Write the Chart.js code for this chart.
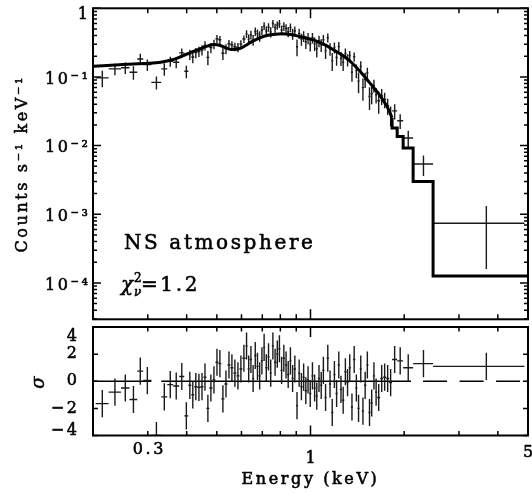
<!DOCTYPE html>
<html>
<head>
<meta charset="utf-8">
<script src="https://cdn.jsdelivr.net/npm/chart.js@4.4.1/dist/chart.umd.min.js"></script>
<style>
  html, body { margin: 0; padding: 0; background: #fff; overflow: hidden; }
  #wrap { position: relative; width: 532px; height: 494px; }
  canvas { position: absolute; left: 0; }
  #spec { top: 0; }
  #res { top: 322px; }
</style>
</head>
<body>
<div id="wrap">
  <canvas id="spec" width="532" height="322"></canvas>
  <canvas id="res" width="532" height="172"></canvas>
</div>
<script>
// spectrum bins (keV), contiguous
const binEdges = [
  0.204, 0.2245, 0.246, 0.262, 0.2775, 0.290, 0.308, 0.3315, 0.3465, 0.362, 0.3785, 0.393, 0.405,
  0.414, 0.423, 0.433, 0.443, 0.453, 0.463, 0.473, 0.484, 0.495, 0.506, 0.517, 0.529, 0.541, 0.553,
  0.565, 0.578, 0.591, 0.604, 0.618,
  0.628, 0.638, 0.649, 0.659, 0.670, 0.681, 0.692, 0.704, 0.715, 0.727, 0.739, 0.751, 0.763, 0.776,
  0.788, 0.801, 0.814, 0.828, 0.841, 0.855, 0.869, 0.883, 0.898, 0.912, 0.927, 0.943, 0.958, 0.974,
  0.990, 1.006, 1.023, 1.039, 1.056, 1.074, 1.091, 1.109, 1.127, 1.146, 1.165, 1.184, 1.203, 1.223,
  1.243, 1.263, 1.284, 1.305, 1.326, 1.348, 1.370, 1.393, 1.415, 1.439, 1.462, 1.486, 1.511, 1.535,
  1.560, 1.586, 1.612, 1.638,
  1.675, 1.712, 1.750, 1.790, 1.829,
  1.899, 1.985, 2.137, 2.477, 4.87
];

// counts s^-1 keV^-1 per bin
const rate = [
  0.097, 0.131, 0.136, 0.117, 0.183, 0.151, 0.0835, 0.131, 0.169, 0.164, 0.224, 0.121,
  0.212, 0.195, 0.226, 0.235, 0.247, 0.287, 0.193, 0.267, 0.301, 0.36, 0.349, 0.221, 0.257, 0.305,
  0.292, 0.276, 0.270, 0.301, 0.357,
  0.424, 0.358, 0.41, 0.347, 0.459, 0.426, 0.396, 0.479, 0.555, 0.467, 0.53, 0.452, 0.60, 0.518,
  0.565, 0.596, 0.483, 0.546, 0.509, 0.457, 0.525, 0.425, 0.467, 0.276, 0.43, 0.356, 0.394, 0.324,
  0.368, 0.301, 0.373, 0.306, 0.258, 0.334, 0.292, 0.348, 0.24, 0.373, 0.256, 0.173, 0.269, 0.192,
  0.277, 0.187, 0.163, 0.22, 0.178, 0.205, 0.117, 0.197, 0.124, 0.087, 0.142, 0.070, 0.092, 0.115,
  0.052, 0.057, 0.075, 0.055,
  0.045, 0.053, 0.047, 0.038, 0.028,
  0.032, 0.023, 0.0129, 0.0054, 0.00074
];

const rateErr = [
  0.026, 0.025, 0.026, 0.026, 0.034, 0.029, 0.018, 0.027, 0.028, 0.030, 0.036, 0.025,
  0.036, 0.037, 0.039, 0.040, 0.042, 0.044, 0.045, 0.046, 0.047, 0.047, 0.046, 0.044, 0.043, 0.041,
  0.040, 0.040, 0.041, 0.042, 0.045,
  0.055, 0.058, 0.060, 0.062, 0.065, 0.067, 0.069, 0.071, 0.073, 0.075, 0.076, 0.077, 0.078, 0.078,
  0.079, 0.079, 0.079, 0.079, 0.079, 0.079, 0.078, 0.077, 0.076, 0.075, 0.073, 0.071, 0.070, 0.069,
  0.068, 0.067, 0.065, 0.068, 0.066, 0.064, 0.062, 0.060, 0.058, 0.056, 0.053, 0.051, 0.049, 0.047,
  0.045, 0.043, 0.041, 0.039, 0.036, 0.034, 0.032, 0.030, 0.028, 0.029, 0.027, 0.025, 0.023, 0.021,
  0.019, 0.017, 0.016, 0.014,
  0.016, 0.014, 0.012, 0.010, 0.009,
  0.008, 0.0056, 0.0035, 0.0018, 0.00058
];

// residuals in sigma
const resid = [
  -1.65, -0.8, -0.5, -1.35, 0.75, 0.05, -4.0, -1.15, -0.25, -0.35, 0.35, -2.55,
  -0.3, -1.0, -0.4, -0.45, -0.4, 0.3, -2.0, -0.5, 0.1, 1.4, 1.3, -1.3, -0.2, 1.2,
  1.0, 0.6, 0.4, 0.9, 1.7,
  2.6, 0.9, 1.6, 0.2, 1.9, 1.1, 0.4, 1.5, 2.5, 1.0, 1.8, 0.6, 2.6, 1.4,
  2.0, 2.4, 0.8, 1.7, 1.2, 0.5, 1.5, 0.2, 0.9, -1.8, 0.6, -0.4, 0.3, -0.7,
  0.1, -0.9, 0.4, -0.5, -1.1, 0.2, -0.3, 0.8, -1.2, 1.7, -0.2, -2.3, 0.5, -0.9,
  1.2, -0.6, -1.4, 0.7, -0.1, 1.0, -1.9, 1.6, -0.5, -2.0, 0.9, -2.2, -0.3, 1.2,
  -2.3, -1.6, 0.4, -0.8,
  -1.2, 0.2, 0.3, 0.2, -0.1,
  1.6, 1.5, 1.0, 1.3, 1.1
];

// NS atmosphere model, smooth part
const modelE = [0.2, 0.25, 0.3, 0.33, 0.36, 0.39, 0.41, 0.43, 0.45, 0.47, 0.49, 0.51, 0.53, 0.555,
  0.58, 0.6, 0.625, 0.65, 0.69, 0.73, 0.77, 0.81, 0.85, 0.9, 0.95, 1.0, 1.05, 1.1, 1.15, 1.2, 1.25,
  1.3, 1.35, 1.4, 1.45, 1.5, 1.55, 1.6, 1.65, 1.7, 1.75, 1.79, 1.829];
const modelRate = [0.143, 0.152, 0.158, 0.164, 0.178, 0.205, 0.224, 0.245, 0.266, 0.285, 0.296, 0.29,
  0.27, 0.252, 0.253, 0.265, 0.295, 0.33, 0.375, 0.405, 0.42, 0.425, 0.42, 0.40, 0.375, 0.355, 0.33,
  0.30, 0.27, 0.24, 0.215, 0.19, 0.165, 0.14, 0.118, 0.098, 0.082, 0.069, 0.058, 0.048, 0.039, 0.032,
  0.0253];
// model histogram at high energy
const stepEdges = [1.829, 1.899, 1.985, 2.137, 2.477, 5.0];
const stepRate = [0.0181, 0.0136, 0.00923, 0.0030, 0.000126];

const countTicks = [1, 0.1, 0.01, 0.001, 0.0001];
const countTickLabels = [['', '1'], '10⁻¹', '10⁻²', '10⁻³', '10⁻⁴'];
const sigmaTicks = [-4, -2, 0, 2, 4];
const sigmaTickLabels = [['−4', ''], '−2', '0', '2', ['', '4']];
const energyTicks = [0.3, 1, 5];
const energyTickLabels = ['0.3', '1', '5'];
const energyMinor = [0.3, 0.4, 0.5, 0.6, 0.7, 0.8, 0.9, 2, 3, 4];
const energyMajor = [1];

const zeroSolid = [[0.2, 0.308], [0.3315, 2.104]];
const zeroDashed = [2.30, 5.0];

const FONT = "'DejaVu Serif', 'Liberation Serif', serif";

const binLo = binEdges.slice(0, -1);
const binHi = binEdges.slice(1);
const binMid = binLo.map((lo, i) => (lo + binHi[i]) / 2);

// crosses: bin-wide horizontal bar + vertical error bar, gaps between
function crosses(vals, errs) {
  const pts = [];
  vals.forEach((v, i) => {
    const e = Array.isArray(errs) ? errs[i] : errs;
    pts.push({x: binLo[i], y: v}, {x: binHi[i], y: v}, {x: binHi[i], y: null});
    pts.push({x: binMid[i], y: v - e}, {x: binMid[i], y: v + e}, {x: binMid[i], y: null});
  });
  return pts;
}

const stepPoints = [{x: stepEdges[0], y: modelRate[modelRate.length - 1]}];
stepRate.forEach((v, i) => {
  stepPoints.push({x: stepEdges[i], y: v}, {x: stepEdges[i + 1], y: v});
});

const zeroPoints = [];
zeroSolid.forEach(([a, b]) => {
  zeroPoints.push({x: a, y: 0}, {x: b, y: 0}, {x: b, y: null});
});

const countMinor = [];
for (let d = 1e-5; d < 1; d *= 10) {
  for (let m = 2; m <= 9; m++) {
    const v = m * d;
    if (v > 2.95e-5 && v < 1) countMinor.push(v);
  }
}

// wide, slightly heavier lettering like the original plot
const lettering = {
  id: 'lettering',
  beforeInit(chart) {
    const ctx = chart.ctx;
    const fill = ctx.fillText.bind(ctx);
    ctx.fillText = function(t, x, y, w) {
      fill(t, x, y, w);
      ctx.save();
      ctx.lineWidth = 0.55;
      ctx.lineJoin = 'round';
      ctx.strokeStyle = ctx.fillStyle;
      ctx.strokeText(t, x, y, w);
      ctx.restore();
    };
  },
  beforeDraw(chart) { chart.ctx.letterSpacing = '2.6px'; }
};

const frame = {
  id: 'frame',
  afterDatasetsDraw(chart, args, o) {
    const {ctx, chartArea: a} = chart;
    const x = chart.scales.x, y = chart.scales.y;
    ctx.save();
    ctx.strokeStyle = '#000';
    ctx.lineWidth = 1.5;
    ctx.beginPath();
    const xt = (vals, len) => vals.forEach(v => {
      const p = x.getPixelForValue(v);
      ctx.moveTo(p, a.top); ctx.lineTo(p, a.top + len);
      ctx.moveTo(p, a.bottom); ctx.lineTo(p, a.bottom - len);
    });
    const yt = (vals, len) => vals.forEach(v => {
      const p = y.getPixelForValue(v);
      ctx.moveTo(a.left, p); ctx.lineTo(a.left + len, p);
      ctx.moveTo(a.right, p); ctx.lineTo(a.right - len, p);
    });
    xt(o.xMinor, o.xMinorLen);
    xt(o.xMajor, o.xMajorLen);
    yt(o.yMinor, o.yMinorLen);
    yt(o.yMajor, o.yMajorLen);
    ctx.stroke();
    ctx.lineWidth = 2;
    ctx.strokeRect(a.left, a.top, a.right - a.left, a.bottom - a.top);
    ctx.restore();
  }
};

const notes = {
  id: 'notes',
  afterDraw(chart) {
    const {ctx, chartArea: a} = chart;
    const x0 = a.left;
    ctx.save();
    ctx.fillStyle = '#000';
    ctx.textBaseline = 'alphabetic';
    ctx.textAlign = 'left';
    ctx.letterSpacing = '2.6px';
    ctx.font = `20px ${FONT}`;
    ctx.fillText('NS atmosphere', x0 + 31, 249);
    ctx.font = `italic 20px ${FONT}`;
    ctx.fillText('χ', x0 + 28, 291);
    ctx.letterSpacing = '0px';
    ctx.font = `12px ${FONT}`;
    ctx.fillText('2', x0 + 41, 282);
    ctx.font = `italic 12px ${FONT}`;
    ctx.fillText('ν', x0 + 41, 295.5);
    ctx.letterSpacing = '2.6px';
    ctx.font = `20px ${FONT}`;
    ctx.fillText('=1.2', x0 + 48, 291);
    ctx.restore();
  }
};

function fixWidth(w) {
  return s => { s.width = w; s.paddingTop = 0; s.paddingBottom = 0; s.paddingLeft = 0; s.paddingRight = 0; };
}
function fixHeight(h) {
  return s => { s.height = h; s.paddingTop = 0; s.paddingBottom = 0; s.paddingLeft = 0; s.paddingRight = 0; };
}

const noGrid = {display: false, drawTicks: false};

new Chart(document.getElementById('spec'), {
  type: 'line',
  data: {
    datasets: [
      {data: modelE.map((e, i) => ({x: e, y: modelRate[i]})), borderColor: '#000', borderWidth: 3,
        pointRadius: 0, cubicInterpolationMode: 'monotone', fill: false},
      {data: stepPoints, borderColor: '#000', borderWidth: 3, pointRadius: 0, tension: 0,
        borderJoinStyle: 'miter', fill: false},
      {data: crosses(rate, rateErr), borderColor: '#1a1a1a', borderWidth: 1.4, pointRadius: 0,
        tension: 0, spanGaps: false, fill: false}
    ]
  },
  options: {
    responsive: false,
    animation: false,
    events: [],
    layout: {padding: {left: 0, right: 4, top: 8.3, bottom: 2.7}},
    scales: {
      x: {type: 'logarithmic', min: 0.2, max: 5, display: false, grid: noGrid},
      y: {
        type: 'logarithmic', min: 2.95e-5, max: 1,
        grid: noGrid, border: {display: false},
        afterBuildTicks: s => { s.ticks = countTicks.map(v => ({value: v})); },
        afterFit: fixWidth(93),
        ticks: {
          autoSkip: false, padding: 2.5, color: '#000', labelOffset: 2.5,
          font: c => ({family: FONT, size: 16, lineHeight: c.index === 0 ? '8px' : '19px'}),
          callback: (v, i) => countTickLabels[i]
        },
        title: {
          display: true, text: 'Counts s⁻¹ keV⁻¹', color: '#000',
          font: {family: FONT, size: 16, lineHeight: '19px'}, padding: {top: 13, bottom: 0}
        }
      }
    },
    plugins: {
      legend: {display: false},
      tooltip: {enabled: false},
      frame: {
        xMinor: energyMinor, xMinorLen: 5, xMajor: energyMajor, xMajorLen: 10,
        yMinor: countMinor, yMinorLen: 4, yMajor: countTicks, yMajorLen: 8
      }
    }
  },
  plugins: [lettering, frame, notes]
});

const energyLineHeights = ['19px', '36px', '24px'];

new Chart(document.getElementById('res'), {
  type: 'line',
  data: {
    datasets: [
      {data: crosses(resid, 1), borderColor: '#1a1a1a', borderWidth: 1.4, pointRadius: 0,
        tension: 0, spanGaps: false, fill: false},
      {data: zeroPoints, borderColor: '#000', borderWidth: 1.3, pointRadius: 0, spanGaps: false, fill: false},
      {data: zeroDashed.map(e => ({x: e, y: 0})), borderColor: '#000', borderWidth: 1.3, pointRadius: 0,
        borderDash: [24, 12.5], fill: false}
    ]
  },
  options: {
    responsive: false,
    animation: false,
    events: [],
    layout: {padding: {left: 0, right: 4, top: 5, bottom: 0}},
    scales: {
      x: {
        type: 'logarithmic', min: 0.2, max: 5,
        grid: noGrid, border: {display: false},
        afterBuildTicks: s => { s.ticks = energyTicks.map(v => ({value: v})); },
        afterFit: fixHeight(58.5),
        ticks: {
          autoSkip: false, maxRotation: 0, minRotation: 0, padding: 5, color: '#000', labelOffset: 1.5,
          font: c => ({family: FONT, size: 16, lineHeight: energyLineHeights[c.index] || '19px'}),
          callback: (v, i) => energyTickLabels[i]
        },
        title: {
          display: true, text: 'Energy (keV)', color: '#000',
          font: {family: FONT, size: 16, lineHeight: '19px'}, padding: {top: 0, bottom: 4.5}
        }
      },
      y: {
        type: 'linear', min: -4, max: 4,
        grid: noGrid, border: {display: false},
        afterBuildTicks: s => { s.ticks = sigmaTicks.map(v => ({value: v})); },
        afterFit: fixWidth(93),
        ticks: {
          autoSkip: false, padding: 13.5, color: '#000',
          font: c => ({family: FONT, size: 16, lineHeight: c.index === 0 ? '9px' : '19px'}),
          callback: (v, i) => sigmaTickLabels[i]
        },
        title: {
          display: true, text: 'σ', color: '#000',
          font: {family: FONT, size: 18, style: 'italic', lineHeight: '19px'}, padding: {top: 29.5, bottom: 0}
        }
      }
    },
    plugins: {
      legend: {display: false},
      tooltip: {enabled: false},
      frame: {
        xMinor: energyMinor, xMinorLen: 4.5, xMajor: energyMajor, xMajorLen: 10,
        yMinor: [], yMinorLen: 0, yMajor: sigmaTicks, yMajorLen: 5
      }
    }
  },
  plugins: [lettering, frame]
});
</script>
</body>
</html>
